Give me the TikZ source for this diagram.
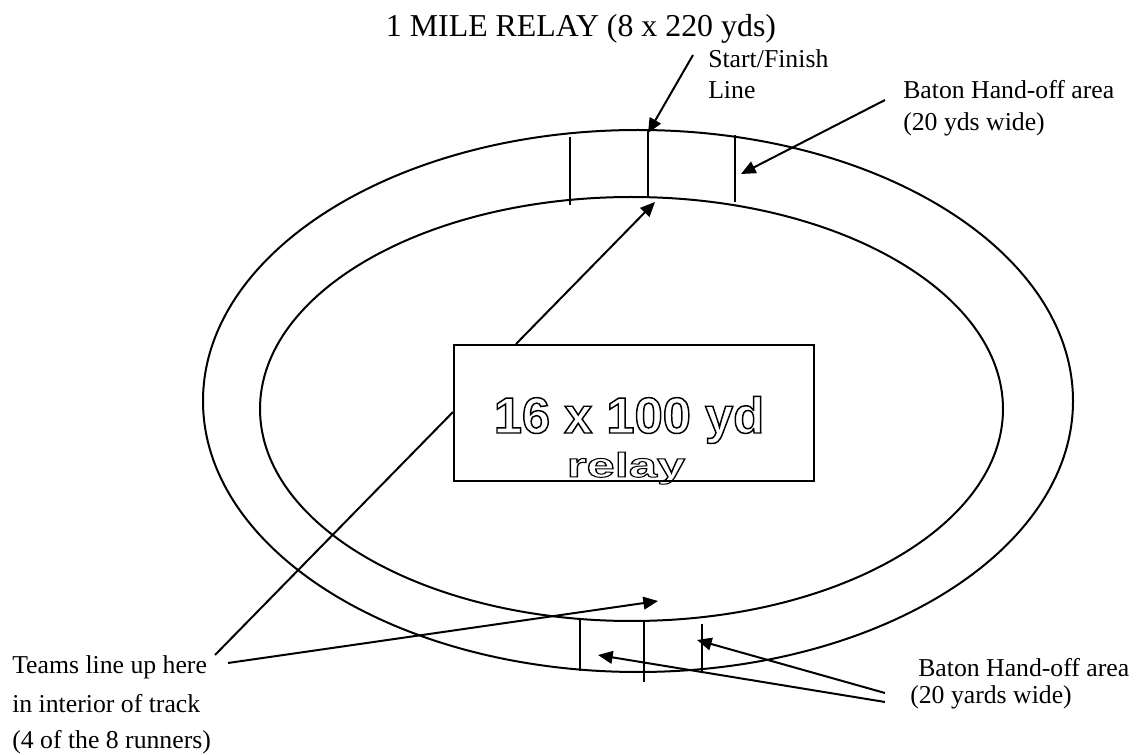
\documentclass[tikz,border=0pt]{standalone}
\usepackage{fontspec}
\usepackage{graphicx}
\setmainfont{Liberation Serif}
\newfontfamily\boxfont{Liberation Sans}
\usetikzlibrary{arrows.meta}
\newcommand{\outlinetext}[1]{\special{pdf:literal direct 1 Tr 1.1 w}#1\special{pdf:literal direct 0 Tr}}
\tikzset{
  trk/.style={line width=1.5pt},
  mark line/.style={line width=1.5pt},
  arr/.style={line width=1.5pt,-{Triangle[length=11pt,width=9.5pt]}},
  lbl/.style={anchor=base west,inner sep=0pt,font=\fontsize{19.3}{22}\selectfont},
  ttl/.style={anchor=base,inner sep=0pt,font=\fontsize{23.9}{28}\selectfont},
  big/.style={anchor=base,inner sep=0pt,font=\boxfont\bfseries\fontsize{38}{42}\selectfont},
  relaybox/.style={draw,line width=1.2pt,fill=white}
}
\begin{document}
\begin{tikzpicture}[x=0.75pt,y=-0.75pt]
\useasboundingbox (0,0) rectangle (1143,755);
% track
\draw[trk] (638,401) ellipse [x radius=435, y radius=271];
\draw[trk] (631.5,409) ellipse [x radius=371.5, y radius=212];
% top marks
\coordinate (t1a) at (570,137); \coordinate (t1b) at (570,205);
\coordinate (t2a) at (648,131); \coordinate (t2b) at (648,197);
\coordinate (t3a) at (735,135); \coordinate (t3b) at (735,202);
\draw[mark line] (t1a) -- (t1b);
\draw[mark line] (t2a) -- (t2b);
\draw[mark line] (t3a) -- (t3b);
% bottom marks
\coordinate (b1a) at (580,619); \coordinate (b1b) at (580,671);
\coordinate (b2a) at (644,621); \coordinate (b2b) at (644,682);
\coordinate (b3a) at (702,624); \coordinate (b3b) at (702,673);
\draw[mark line] (b1a) -- (b1b);
\draw[mark line] (b2a) -- (b2b);
\draw[mark line] (b3a) -- (b3b);
% box
\node[relaybox,minimum width=270pt,minimum height=102pt,anchor=north west] (box) at (453,344) {};
\node[big] (boxl1) at (629,433) {\outlinetext{16 x 100 yd}};
\node[big] (boxl2) at (626,477) {\scalebox{1}[0.68]{\outlinetext{relay}}};
% title
\node[ttl] (title) at (581,37) {1 MILE RELAY (8 x 220 yds)};
% labels
\node[lbl] (sf1) at (708,68) {Start/Finish};
\node[lbl] (sf2) at (708,99) {Line};
\node[lbl] (bt1) at (903,99) {Baton Hand-off area};
\node[lbl] (bt2) at (903,131) {(20 yds wide)};
\node[lbl] (tm1) at (12,673) {Teams line up here};
\node[lbl] (tm2) at (12,712) {in interior of track};
\node[lbl] (tm3) at (12,748) {(4 of the 8 runners)};
\node[lbl] (bb1) at (918,676) {Baton Hand-off area};
\node[lbl] (bb2) at (910,703) {(20 yards wide)};
% connector endpoints
\coordinate (sfs) at (693,55);   \coordinate (sft) at (648,133);
\coordinate (bts) at (885,100);  \coordinate (btt) at (741,174);
\coordinate (bxs) at (516,344);  \coordinate (bxt) at (655,202);
\coordinate (tms) at (215,655);  \coordinate (tme) at (453,412);
\coordinate (tma) at (228,663);  \coordinate (tmt) at (658,601);
\coordinate (bbsa) at (885,693); \coordinate (bbta) at (697,640);
\coordinate (bbsb) at (885,702); \coordinate (bbtb) at (598,655);
\draw[arr] (sfs) -- (sft);
\draw[arr] (bts) -- (btt);
\draw[arr] (bxs) -- (bxt);
\draw[trk] (tms) -- (tme);
\draw[arr] (tma) -- (tmt);
\draw[arr] (bbsa) -- (bbta);
\draw[arr] (bbsb) -- (bbtb);
\end{tikzpicture}
\end{document}
